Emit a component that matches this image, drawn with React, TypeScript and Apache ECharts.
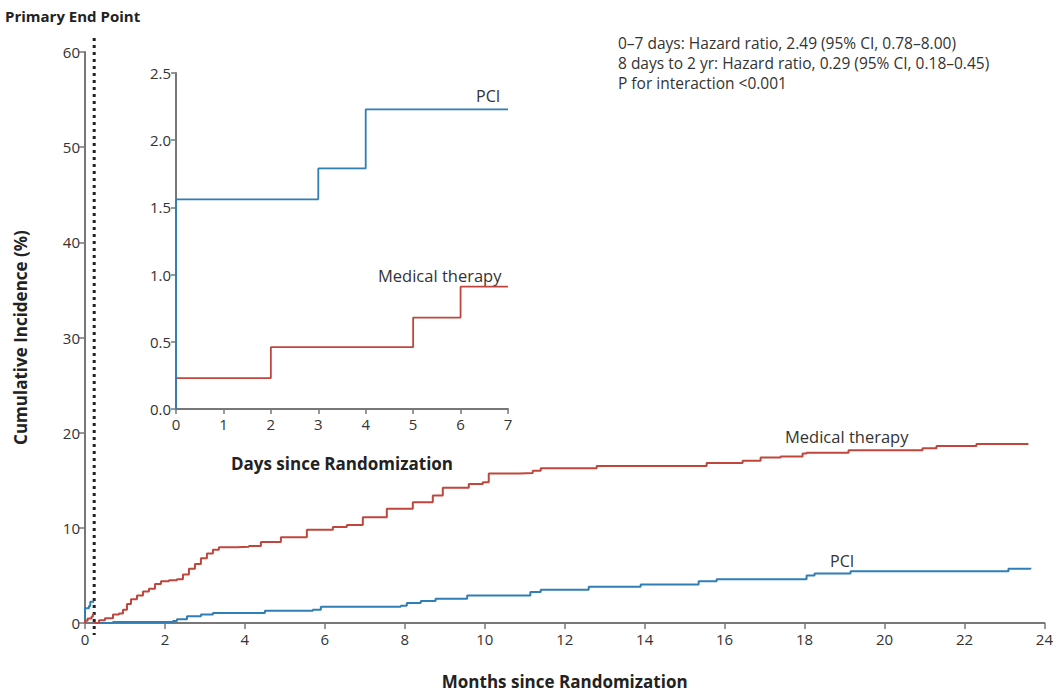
import React, { useEffect, useRef } from "react";
import * as echarts from "echarts";

const FONT = "'Open Sans', 'Liberation Sans', sans-serif";
const DAYS_PER_MONTH = 30.44;

// Inset (days 0–7)
const pciDays = [0, 0, 3, 4, 7];
const pciDaysVal = [0, 1.56, 1.79, 2.23, 2.23];
const medDays = [0, 0, 2, 5, 6, 7];
const medDaysVal = [0, 0.23, 0.46, 0.68, 0.91, 0.91];

// Main chart, landmark after 7 days (months)
const medMonths = [0.23, 0.35, 0.5, 0.7, 0.85, 0.95, 1.05, 1.15, 1.3, 1.45, 1.6, 1.75, 1.9, 2.1, 2.3, 2.45, 2.6, 2.75, 2.9, 3.05, 3.2, 3.35, 3.8, 4.1, 4.4, 4.9, 5.55, 6.2, 6.55, 6.95, 7.55, 8.2, 8.7, 8.95, 9.6, 9.95, 10.1, 10.88, 11.2, 11.4, 12.8, 15.55, 16.45, 16.9, 17.4, 17.95, 18.05, 19.1, 20.95, 21.3, 22.3, 23.6];
const medVals = [0, 0.3, 0.5, 0.9, 1.0, 1.4, 2.0, 2.5, 2.9, 3.3, 3.6, 4.1, 4.4, 4.5, 4.6, 5.1, 5.7, 6.2, 6.8, 7.3, 7.7, 7.95, 8.0, 8.1, 8.5, 9.0, 9.8, 10.1, 10.3, 11.1, 12.0, 12.7, 13.4, 14.2, 14.6, 14.8, 15.7, 15.75, 16.0, 16.25, 16.5, 16.8, 17.05, 17.4, 17.5, 17.8, 17.9, 18.15, 18.35, 18.6, 18.8, 18.8];

const pciMonths = [0.23, 0.7, 2.2, 2.3, 2.55, 2.9, 3.2, 4.5, 5.7, 5.9, 7.9, 8.05, 8.4, 8.77, 9.56, 11.14, 11.4, 12.6, 13.9, 15.35, 15.8, 18.05, 18.25, 19.15, 23.1, 23.65];
const pciVals = [0, 0.1, 0.2, 0.4, 0.7, 0.9, 1.05, 1.3, 1.4, 1.7, 1.8, 2.1, 2.3, 2.55, 2.9, 3.25, 3.5, 3.8, 4.05, 4.4, 4.6, 5.0, 5.2, 5.45, 5.7, 5.8];

const annotationLines = [
  "0–7 days: Hazard ratio, 2.49 (95% CI, 0.78–8.00)",
  "8 days to 2 yr: Hazard ratio, 0.29 (95% CI, 0.18–0.45)",
  "P for interaction <0.001",
];

const RED = "#c0463c";
const BLUE = "#2f7fb6";
const AXIS = "#777";
const TXT = "#333";

const zip = (xs: number[], ys: number[]) => xs.map((x, i) => [x, ys[i]]);

export default function App() {
  const ref = useRef<HTMLDivElement>(null);
  useEffect(() => {
    if (!ref.current) return;
    const chart = echarts.init(ref.current, undefined, { renderer: "svg" });
    const axisLine = { show: true, lineStyle: { color: AXIS, width: 2 } };
    const axisTick = { show: true, length: 6, lineStyle: { color: AXIS, width: 1.5 } };
    const label = { color: TXT, fontSize: 15, fontFamily: FONT };
    const nameStyle = { color: "#222", fontSize: 17, fontWeight: "bold" as const, fontFamily: FONT };
    const line = (data: number[][], color: string, xi: number, w = 2) => ({
      type: "line",
      data,
      xAxisIndex: xi,
      yAxisIndex: xi,
      step: "end",
      showSymbol: false,
      symbol: "none",
      lineStyle: { color, width: w },
      silent: true,
    });
    const option: any = {
      animation: false,
      backgroundColor: "#fff",
      grid: [
        { left: 85, top: 52, right: 11, bottom: 55 },
        { left: 176, top: 73, width: 332, height: 336 },
      ],
      xAxis: [
        {
          type: "value", gridIndex: 0, min: 0, max: 24, interval: 2,
          axisLine, axisTick, splitLine: { show: false },
          axisLabel: { ...label, margin: 8 },
          name: "Months since Randomization", nameLocation: "middle", nameGap: 50, nameTextStyle: nameStyle,
        },
        {
          type: "value", gridIndex: 1, min: 0, max: 7, interval: 1,
          axisLine, axisTick: { ...axisTick, length: 5 }, splitLine: { show: false },
          axisLabel: { ...label, margin: 7 },
          name: "Days since Randomization", nameLocation: "middle", nameGap: 46, nameTextStyle: nameStyle,
        },
      ],
      yAxis: [
        {
          type: "value", gridIndex: 0, min: 0, max: 60, interval: 10,
          axisLine, axisTick, splitLine: { show: false },
          axisLabel: { ...label, margin: 5 },
          name: "Cumulative Incidence (%)", nameLocation: "middle", nameGap: 56, nameTextStyle: nameStyle,
        },
        {
          type: "value", gridIndex: 1, min: 0, max: 2.5, interval: 0.5,
          axisLine, axisTick: { ...axisTick, length: 5 }, splitLine: { show: false },
          axisLabel: { ...label, margin: 5, formatter: (v: number) => v.toFixed(1) },
        },
      ],
      series: [
        line(zip(pciMonths, pciVals), BLUE, 0),
        line(zip(medMonths, medVals), RED, 0),
        line(zip(pciDays.map((d) => d / DAYS_PER_MONTH), pciDaysVal), BLUE, 0),
        line(zip(medDays.map((d) => d / DAYS_PER_MONTH), medDaysVal), RED, 0),
        line(zip(medDays, medDaysVal), RED, 1, 1.8),
        line(zip(pciDays, pciDaysVal), BLUE, 1, 1.8),
      ],
    };
    chart.setOption(option);

    const xd = chart.convertToPixel({ xAxisIndex: 0 }, 7 / DAYS_PER_MONTH) as number;
    const yTop = chart.convertToPixel({ yAxisIndex: 0 }, 60) as number;
    const yBot = chart.convertToPixel({ yAxisIndex: 0 }, 0) as number;
    const txt = (x: number, y: number, text: string, size = 16, extra: any = {}) => ({
      type: "text", x, y,
      style: { text, fill: TXT, font: `${size}px ${FONT}`, textVerticalAlign: "middle", ...extra },
      silent: true,
    });
    chart.setOption({
      graphic: [
        {
          type: "line",
          shape: { x1: xd, y1: yTop - 14, x2: xd, y2: yBot + 12 },
          style: { stroke: "#222", lineWidth: 3, lineDash: [3, 4] },
          silent: true,
        },
        txt(5, 16, "Primary End Point", 15, { font: `bold 15px ${FONT}`, fill: "#222" }),
        ...annotationLines.map((t, i) => txt(618, 43 + i * 20, t, 15.5)),
        txt(476, 96, "PCI", 16),
        txt(378, 275, "Medical therapy", 16.5),
        txt(785, 436, "Medical therapy", 16.5),
        txt(830, 561, "PCI", 16),
      ],
    });
    return () => chart.dispose();
  }, []);
  return (
    <div
      ref={ref}
      style={{ position: "fixed", left: 0, top: 0, width: 1056, height: 695, background: "#fff" }}
    />
  );
}
